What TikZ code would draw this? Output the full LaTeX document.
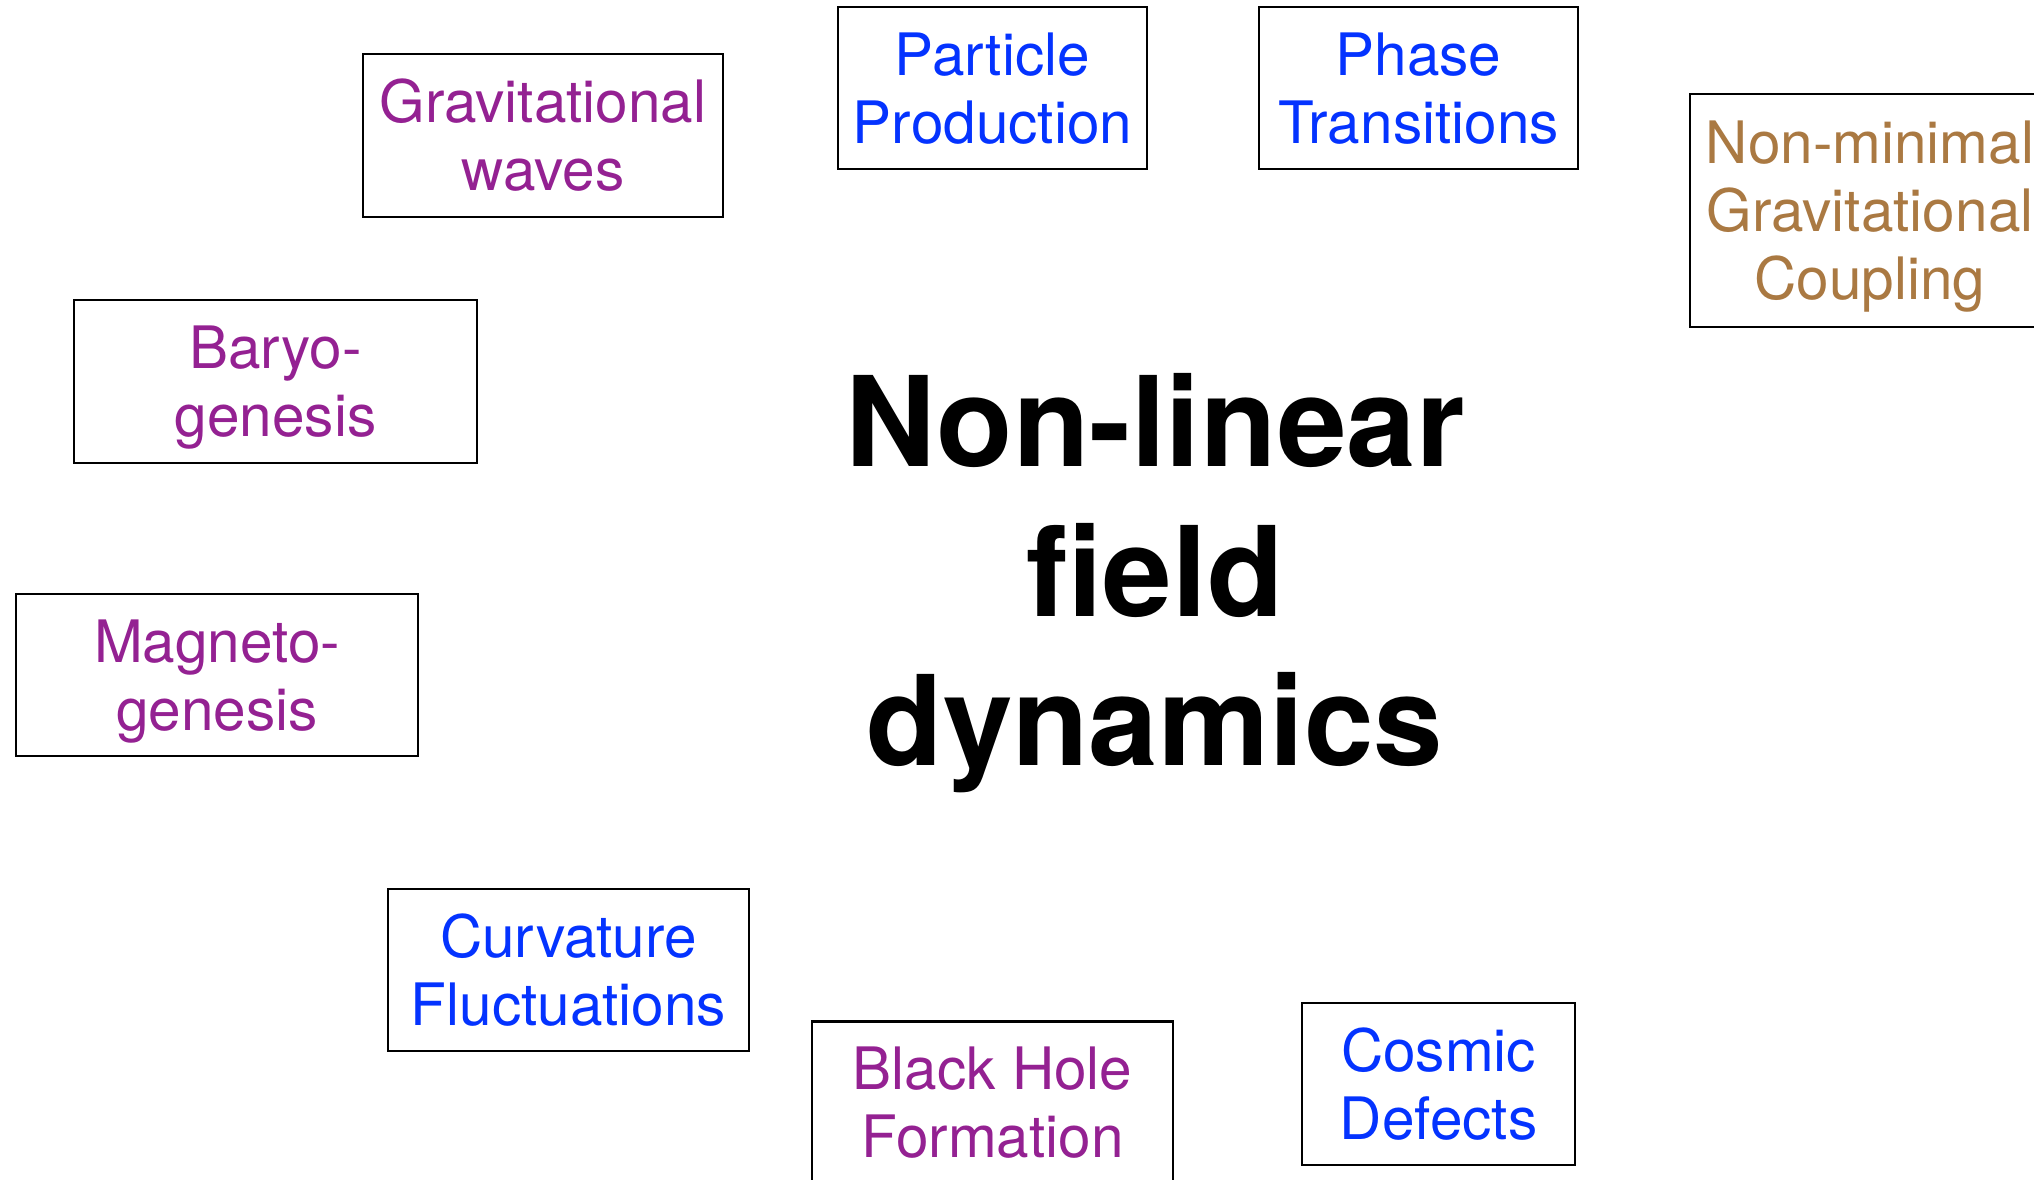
\documentclass[tikz,border=0pt]{standalone}
\usepackage{fontspec}
\setmainfont{TeX Gyre Heros}
\definecolor{plum}{HTML}{942192}
\definecolor{blueberry}{HTML}{0433FF}
\definecolor{mocha}{HTML}{AA7942}
\newcommand\boxfont{\fontsize{58.5}{68}\selectfont}
\newcommand\titlefont{\fontsize{125}{149.5}\selectfont\bfseries}
\newcommand\boxstrut{\rule[-13pt]{0pt}{68pt}}
\newcommand\titlestrut{\rule[-29.9pt]{0pt}{149.5pt}}
\tikzset{
  topicbox/.style={draw=black, line width=2.7pt, inner sep=0pt, align=center, font=\boxfont},
  titletext/.style={inner sep=0pt, align=center, font=\titlefont, text=black},
}
\begin{document}
\begin{tikzpicture}[x=1pt,y=-1pt]
\useasboundingbox (0,0) rectangle (2034,1180);
\fill[white] (0,0) rectangle (2034,1180);

\node[titletext] (title) at (1155,571.5)
  {\titlestrut Non-linear\\\titlestrut field\\\titlestrut dynamics};

\node[topicbox, text=plum, minimum width=360pt, minimum height=163pt] (gw) at (543,135.5)
  {\boxstrut Gravitational\\\boxstrut waves};
\node[topicbox, text=blueberry, minimum width=309pt, minimum height=162pt] (pp) at (992.5,88)
  {\boxstrut Particle\\\boxstrut Production};
\node[topicbox, text=blueberry, minimum width=319pt, minimum height=162pt] (pt) at (1418.5,88)
  {\boxstrut Phase\\\boxstrut Transitions};
\node[topicbox, text=mocha, minimum width=360pt, minimum height=233pt] (nm) at (1870,210.5)
  {\boxstrut Non-minimal\\\boxstrut Gravitational\\\boxstrut Coupling};
\node[topicbox, text=plum, minimum width=403pt, minimum height=163pt] (bg) at (275.5,381.5)
  {\boxstrut Baryo-\\\boxstrut genesis};
\node[topicbox, text=plum, minimum width=402pt, minimum height=162pt] (mg) at (217,675)
  {\boxstrut Magneto-\\\boxstrut genesis};
\node[topicbox, text=blueberry, minimum width=361pt, minimum height=162pt] (cf) at (568.5,970)
  {\boxstrut Curvature\\\boxstrut Fluctuations};
\node[topicbox, text=plum, minimum width=361pt, minimum height=162pt] (bh) at (992.5,1102.5)
  {\boxstrut Black Hole\\\boxstrut Formation};
\node[topicbox, text=blueberry, minimum width=273pt, minimum height=162pt] (cd) at (1438.5,1084)
  {\boxstrut Cosmic\\\boxstrut Defects};
\end{tikzpicture}
\end{document}
